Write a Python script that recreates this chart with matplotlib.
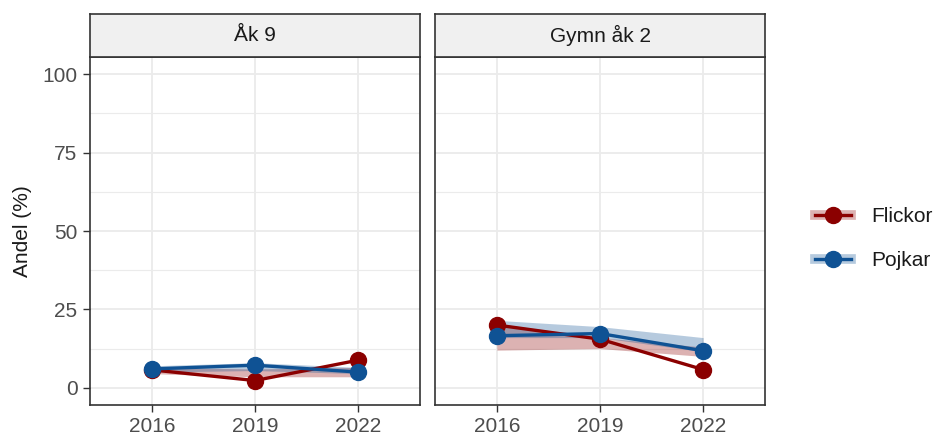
import matplotlib
matplotlib.use("Agg")
import matplotlib.pyplot as plt
from matplotlib.lines import Line2D
from matplotlib.legend_handler import HandlerTuple

plt.rcParams['font.family'] = ['Liberation Sans', 'DejaVu Sans']

years = [2016, 2019, 2022]
panels = ["Åk 9", "Gymn åk 2"]
groups = ["Flickor", "Pojkar"]
colors = {"Flickor": "#8B0000", "Pojkar": "#0F5294"}

# values per panel
ak9_flickor = [5.7, 2.3, 8.8]
ak9_pojkar = [6.0, 7.2, 5.0]
gy2_flickor = [20.0, 15.5, 5.8]
gy2_pojkar = [16.6, 17.3, 11.8]

# ribbon bounds
ak9_flickor_lo = [4.5, 3.5, 3.5]
ak9_flickor_hi = [6.5, 6.0, 6.5]
ak9_pojkar_lo = [5.0, 5.5, 4.5]
ak9_pojkar_hi = [7.0, 8.0, 6.5]
gy2_flickor_lo = [12.0, 12.5, 10.0]
gy2_flickor_hi = [20.5, 16.0, 13.0]
gy2_pojkar_lo = [16.0, 16.0, 11.5]
gy2_pojkar_hi = [21.5, 19.5, 16.0]

data = {
    "Åk 9": {
        "Flickor": (ak9_flickor, ak9_flickor_lo, ak9_flickor_hi),
        "Pojkar": (ak9_pojkar, ak9_pojkar_lo, ak9_pojkar_hi),
    },
    "Gymn åk 2": {
        "Flickor": (gy2_flickor, gy2_flickor_lo, gy2_flickor_hi),
        "Pojkar": (gy2_pojkar, gy2_pojkar_lo, gy2_pojkar_hi),
    },
}

W, H = 938, 438
fig = plt.figure(figsize=(W / 100, H / 100), dpi=100)

panel_x = [90, 435]
panel_w = 330
top_px, bot_px = 57, 405
strip_top = 14

fs = 15
txt_col = "#4D4D4D"
frame_col = "#333333"

axes = []
for i, name in enumerate(panels):
    ax = fig.add_axes([panel_x[i] / W, 1 - bot_px / H, panel_w / W, (bot_px - top_px) / H])
    axes.append(ax)
    ax.set_xlim(2014.2, 2023.8)
    ax.set_ylim(-5.5, 105.5)
    ax.set_xticks(years)
    ax.set_xticklabels([str(y) for y in years])
    ax.set_yticks([0, 25, 50, 75, 100])
    ax.set_yticks([12.5, 37.5, 62.5, 87.5], minor=True)
    ax.grid(which='major', color='#EBEBEB', linewidth=1.3)
    ax.grid(which='minor', axis='y', color='#EBEBEB', linewidth=0.8)
    ax.set_axisbelow(True)
    for s in ax.spines.values():
        s.set_color(frame_col)
        s.set_linewidth(1.2)
    ax.tick_params(axis='both', which='major', length=5, width=1.0, color=frame_col,
                   labelsize=fs, labelcolor=txt_col, pad=4)
    ax.tick_params(axis='y', which='minor', length=0)
    if i > 0:
        ax.tick_params(axis='y', which='both', left=False, labelleft=False)
    for g in groups:
        v, lo, hi = data[name][g]
        ax.fill_between(years, lo, hi, color=colors[g], alpha=0.3, linewidth=0, zorder=2)
    for g in groups:
        v, lo, hi = data[name][g]
        ax.plot(years, v, color=colors[g], linewidth=2.4, marker='o', markersize=11.5, zorder=3)
    # strip
    sax = fig.add_axes([panel_x[i] / W, 1 - top_px / H, panel_w / W, (top_px - strip_top) / H])
    sax.set_facecolor('#F0F0F0')
    sax.set_xticks([])
    sax.set_yticks([])
    for s in sax.spines.values():
        s.set_color(frame_col)
        s.set_linewidth(1.2)
    sax.text(0.5, 0.5, name, ha='center', va='center', fontsize=fs, color='#1A1A1A',
             transform=sax.transAxes)

fig.text(22 / W, 1 - 231 / H, "Andel (%)", rotation=90, ha='center', va='center',
         fontsize=fs, color='#1A1A1A')

handles = []
for g in groups:
    rib = Line2D([], [], color=colors[g], alpha=0.3, linewidth=7)
    ln = Line2D([], [], color=colors[g], linewidth=2.4, marker='o', markersize=11.5)
    handles.append((rib, ln))
leg = fig.legend(handles, groups, handler_map={tuple: HandlerTuple(ndivide=1, pad=0)},
                 loc='center left', bbox_to_anchor=(815 / W, 1 - 239 / H), frameon=False,
                 fontsize=fs, handlelength=1.75, labelspacing=1.2, handletextpad=0.95,
                 borderpad=0, borderaxespad=0)
for t in leg.get_texts():
    t.set_color('#1A1A1A')

fig.savefig("out.png", dpi=100)
